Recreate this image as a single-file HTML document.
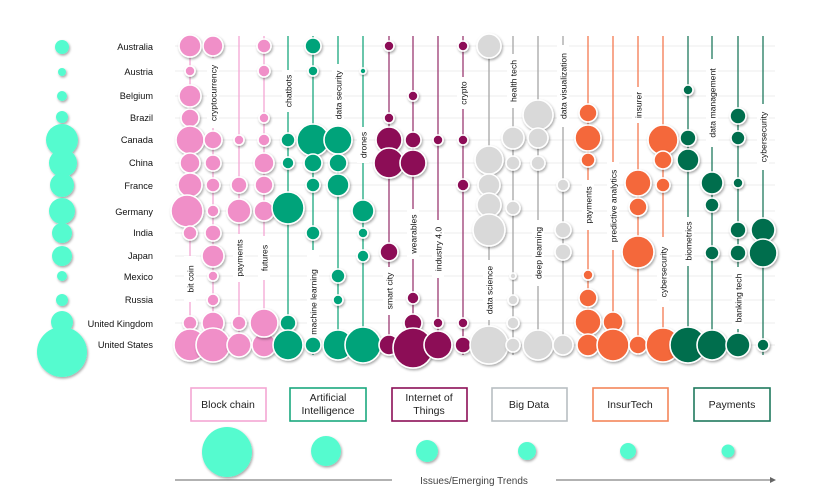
<!DOCTYPE html>
<html><head><meta charset="utf-8"><style>
body{margin:0;background:#fff}
svg{display:block;font-family:"Liberation Sans",sans-serif}
.b circle{stroke:#fff;stroke-width:1.6;filter:url(#sh)}
.p{fill:#F08FC8}.g{fill:#00A37A}.m{fill:#8C0F56}.y{fill:#D9D9D9}.o{fill:#F4683A}.d{fill:#006E4E}
.lt{font-size:8.6px;fill:#111}
.cl{font-size:9.2px;fill:#111;text-anchor:end}
</style></head><body>
<svg width="824" height="504" viewBox="0 0 824 504">
<defs><filter id="sh" x="-30%" y="-30%" width="170%" height="170%"><feDropShadow dx="1" dy="1.5" stdDeviation="1.2" flood-color="#000" flood-opacity="0.35"/></filter></defs>
<g stroke="#ececec" stroke-width="1">
<line x1="175" x2="775" y1="46" y2="46"/><line x1="175" x2="775" y1="71" y2="71"/><line x1="175" x2="775" y1="96" y2="96"/><line x1="175" x2="775" y1="118" y2="118"/><line x1="175" x2="775" y1="140" y2="140"/><line x1="175" x2="775" y1="163" y2="163"/><line x1="175" x2="775" y1="185" y2="185"/><line x1="175" x2="775" y1="211" y2="211"/><line x1="175" x2="775" y1="233" y2="233"/><line x1="175" x2="775" y1="256" y2="256"/><line x1="175" x2="775" y1="276" y2="276"/><line x1="175" x2="775" y1="300" y2="300"/><line x1="175" x2="775" y1="323" y2="323"/><line x1="175" x2="775" y1="345" y2="345"/>
</g>
<g stroke-width="1.3">
<g stroke="#F4A6D4"><line x1="190" x2="190" y1="36" y2="355"/><line x1="213" x2="213" y1="36" y2="355"/><line x1="239" x2="239" y1="36" y2="355"/><line x1="264" x2="264" y1="36" y2="355"/></g>
<g stroke="#1AA87E"><line x1="288" x2="288" y1="36" y2="355"/><line x1="313" x2="313" y1="36" y2="355"/><line x1="338" x2="338" y1="36" y2="355"/><line x1="363" x2="363" y1="36" y2="355"/></g>
<g stroke="#9C3A72"><line x1="389" x2="389" y1="36" y2="355"/><line x1="413" x2="413" y1="36" y2="355"/><line x1="438" x2="438" y1="36" y2="355"/><line x1="463" x2="463" y1="36" y2="355"/></g>
<g stroke="#A6A6A6"><line x1="489" x2="489" y1="36" y2="355"/><line x1="513" x2="513" y1="36" y2="355"/><line x1="538" x2="538" y1="36" y2="355"/><line x1="563" x2="563" y1="36" y2="355"/></g>
<g stroke="#F47A50"><line x1="588" x2="588" y1="36" y2="355"/><line x1="613" x2="613" y1="36" y2="355"/><line x1="638" x2="638" y1="36" y2="355"/><line x1="663" x2="663" y1="36" y2="355"/></g>
<g stroke="#1F7A5E"><line x1="688" x2="688" y1="36" y2="355"/><line x1="712" x2="712" y1="36" y2="355"/><line x1="738" x2="738" y1="36" y2="355"/><line x1="763" x2="763" y1="36" y2="355"/></g>
</g>
<g fill="#fff">
<rect x="184" y="256" width="12" height="46"/><rect x="207" y="58" width="12" height="70"/><rect x="233" y="234" width="12" height="48"/><rect x="258" y="236" width="12" height="44"/>
<rect x="282" y="70" width="12" height="42"/><rect x="307" y="250" width="12" height="104"/><rect x="332" y="64" width="12" height="62"/><rect x="357" y="127" width="12" height="36"/>
<rect x="383" y="267" width="12" height="48"/><rect x="407" y="209" width="12" height="50"/><rect x="432" y="220" width="12" height="58"/><rect x="457" y="77" width="12" height="32"/>
<rect x="483" y="260" width="12" height="60"/><rect x="507" y="54" width="12" height="54"/><rect x="532" y="220" width="12" height="66"/><rect x="557" y="45" width="12" height="82"/>
<rect x="582" y="180" width="12" height="50"/><rect x="607" y="162" width="12" height="88"/><rect x="632" y="87" width="12" height="36"/><rect x="657" y="237" width="12" height="70"/>
<rect x="682" y="217" width="12" height="49"/><rect x="706" y="59" width="12" height="88"/><rect x="732" y="267" width="12" height="62"/><rect x="757" y="104" width="12" height="66"/>
</g>
<g class="lt" text-anchor="middle">
<text transform="translate(193.5,279) rotate(-90)">bit coin</text>
<text transform="translate(216.5,93) rotate(-90)">cryptocurrency</text>
<text transform="translate(242.5,258) rotate(-90)">payments</text>
<text transform="translate(267.5,258) rotate(-90)">futures</text>
<text transform="translate(291.5,91) rotate(-90)">chatbots</text>
<text transform="translate(316.5,302) rotate(-90)">machine learning</text>
<text transform="translate(341.5,95) rotate(-90)">data security</text>
<text transform="translate(366.5,145) rotate(-90)">drones</text>
<text transform="translate(392.5,291) rotate(-90)">smart city</text>
<text transform="translate(416.5,234) rotate(-90)">wearables</text>
<text transform="translate(441.5,249) rotate(-90)">industry 4.0</text>
<text transform="translate(466.5,93) rotate(-90)">crypto</text>
<text transform="translate(492.5,290) rotate(-90)">data science</text>
<text transform="translate(516.5,81) rotate(-90)">health tech</text>
<text transform="translate(541.5,253) rotate(-90)">deep learning</text>
<text transform="translate(566.5,86) rotate(-90)">data visualization</text>
<text transform="translate(591.5,205) rotate(-90)">payments</text>
<text transform="translate(616.5,206) rotate(-90)">predictive analytics</text>
<text transform="translate(641.5,105) rotate(-90)">insurer</text>
<text transform="translate(666.5,272) rotate(-90)">cybersecurity</text>
<text transform="translate(691.5,241) rotate(-90)">biometrics</text>
<text transform="translate(715.5,103) rotate(-90)">data management</text>
<text transform="translate(741.5,298) rotate(-90)">banking tech</text>
<text transform="translate(766.5,137) rotate(-90)">cybersecurity</text>
</g>
<g class="b">
<g class="p">
<circle cx="190" cy="46" r="11"/><circle cx="190" cy="71" r="5"/><circle cx="190" cy="96" r="11"/><circle cx="190" cy="118" r="9"/><circle cx="190" cy="140" r="14"/><circle cx="190" cy="163" r="10"/><circle cx="190" cy="185" r="12"/><circle cx="187" cy="211" r="16"/><circle cx="190" cy="233" r="7"/><circle cx="190" cy="323" r="7"/><circle cx="190" cy="345" r="16"/>
<circle cx="213" cy="46" r="10"/><circle cx="213" cy="140" r="9"/><circle cx="213" cy="163" r="8"/><circle cx="213" cy="185" r="7"/><circle cx="213" cy="211" r="6"/><circle cx="213" cy="233" r="8"/><circle cx="213" cy="256" r="11"/><circle cx="213" cy="276" r="5"/><circle cx="213" cy="300" r="6"/><circle cx="213" cy="323" r="11"/><circle cx="213" cy="345" r="17"/>
<circle cx="239" cy="140" r="5"/><circle cx="239" cy="185" r="8"/><circle cx="239" cy="211" r="12"/><circle cx="239" cy="323" r="7"/><circle cx="239" cy="345" r="12"/>
<circle cx="264" cy="46" r="7"/><circle cx="264" cy="71" r="6"/><circle cx="264" cy="118" r="5"/><circle cx="264" cy="140" r="6"/><circle cx="264" cy="163" r="10"/><circle cx="264" cy="185" r="9"/><circle cx="264" cy="211" r="10"/><circle cx="264" cy="345" r="12"/><circle cx="264" cy="323" r="14"/>
</g>
<g class="g">
<circle cx="288" cy="140" r="7"/><circle cx="288" cy="163" r="6"/><circle cx="288" cy="208" r="16"/><circle cx="288" cy="323" r="8"/><circle cx="288" cy="345" r="15"/>
<circle cx="313" cy="46" r="8"/><circle cx="313" cy="71" r="5"/><circle cx="313" cy="140" r="16"/><circle cx="313" cy="163" r="9"/><circle cx="313" cy="185" r="7"/><circle cx="313" cy="233" r="7"/><circle cx="313" cy="345" r="8"/>
<circle cx="338" cy="140" r="14"/><circle cx="338" cy="163" r="9"/><circle cx="338" cy="185" r="11"/><circle cx="338" cy="276" r="7"/><circle cx="338" cy="300" r="5"/><circle cx="338" cy="345" r="15"/>
<circle cx="363" cy="71" r="3"/><circle cx="363" cy="211" r="11"/><circle cx="363" cy="233" r="5"/><circle cx="363" cy="256" r="6"/><circle cx="363" cy="345" r="18"/>
</g>
<g class="m">
<circle cx="389" cy="46" r="5"/><circle cx="389" cy="118" r="5"/><circle cx="389" cy="140" r="13"/><circle cx="389" cy="163" r="15"/><circle cx="389" cy="252" r="9"/><circle cx="389" cy="345" r="10"/>
<circle cx="413" cy="96" r="5"/><circle cx="413" cy="140" r="8"/><circle cx="413" cy="163" r="13"/><circle cx="413" cy="298" r="6"/><circle cx="413" cy="323" r="9"/><circle cx="413" cy="348" r="20"/>
<circle cx="438" cy="140" r="5"/><circle cx="438" cy="323" r="5"/><circle cx="438" cy="345" r="14"/>
<circle cx="463" cy="46" r="5"/><circle cx="463" cy="140" r="5"/><circle cx="463" cy="185" r="6"/><circle cx="463" cy="323" r="5"/><circle cx="463" cy="345" r="8"/>
</g>
<g class="y">
<circle cx="489" cy="46" r="12"/><circle cx="489" cy="160" r="14"/><circle cx="489" cy="185" r="11"/><circle cx="489" cy="205" r="12"/><circle cx="489" cy="230" r="16"/><circle cx="489" cy="345" r="19"/>
<circle cx="513" cy="138" r="11"/><circle cx="513" cy="163" r="7"/><circle cx="513" cy="208" r="7"/><circle cx="513" cy="276" r="3"/><circle cx="513" cy="300" r="5"/><circle cx="513" cy="323" r="6"/><circle cx="513" cy="345" r="7"/>
<circle cx="538" cy="115" r="15"/><circle cx="538" cy="138" r="10"/><circle cx="538" cy="163" r="7"/><circle cx="538" cy="345" r="15"/>
<circle cx="563" cy="185" r="6"/><circle cx="563" cy="230" r="8"/><circle cx="563" cy="252" r="8"/><circle cx="563" cy="345" r="10"/>
</g>
<g class="o">
<circle cx="588" cy="113" r="9"/><circle cx="588" cy="138" r="13"/><circle cx="588" cy="160" r="7"/><circle cx="588" cy="275" r="5"/><circle cx="588" cy="298" r="9"/><circle cx="588" cy="322" r="13"/><circle cx="588" cy="345" r="11"/>
<circle cx="613" cy="322" r="10"/><circle cx="613" cy="345" r="16"/>
<circle cx="638" cy="183" r="13"/><circle cx="638" cy="207" r="9"/><circle cx="638" cy="252" r="16"/><circle cx="638" cy="345" r="9"/>
<circle cx="663" cy="140" r="15"/><circle cx="663" cy="160" r="9"/><circle cx="663" cy="185" r="7"/><circle cx="663" cy="345" r="17"/>
</g>
<g class="d">
<circle cx="688" cy="90" r="5"/><circle cx="688" cy="138" r="8"/><circle cx="688" cy="160" r="11"/><circle cx="688" cy="345" r="18"/>
<circle cx="712" cy="183" r="11"/><circle cx="712" cy="205" r="7"/><circle cx="712" cy="253" r="7"/><circle cx="712" cy="345" r="15"/>
<circle cx="738" cy="116" r="8"/><circle cx="738" cy="138" r="7"/><circle cx="738" cy="183" r="5"/><circle cx="738" cy="230" r="8"/><circle cx="738" cy="253" r="8"/><circle cx="738" cy="345" r="12"/>
<circle cx="763" cy="230" r="12"/><circle cx="763" cy="253" r="14"/><circle cx="763" cy="345" r="6"/>
</g>
</g>
<g fill="#55FBCF" filter="url(#sh)">
<circle cx="62" cy="47" r="7"/><circle cx="62" cy="72" r="4"/><circle cx="62" cy="96" r="5"/><circle cx="62" cy="117" r="6"/><circle cx="62" cy="140" r="16"/><circle cx="63" cy="163" r="14"/><circle cx="62" cy="185" r="12"/><circle cx="62" cy="211" r="13"/><circle cx="62" cy="233" r="10"/><circle cx="62" cy="256" r="10"/><circle cx="62" cy="276" r="5"/><circle cx="62" cy="300" r="6"/><circle cx="62" cy="322" r="11"/><circle cx="62" cy="352" r="25"/>
</g>
<g class="cl">
<text x="153" y="50">Australia</text><text x="153" y="75">Austria</text><text x="153" y="99">Belgium</text><text x="153" y="121">Brazil</text><text x="153" y="143">Canada</text><text x="153" y="166">China</text><text x="153" y="189">France</text><text x="153" y="215">Germany</text><text x="153" y="236">India</text><text x="153" y="259">Japan</text><text x="153" y="280">Mexico</text><text x="153" y="303">Russia</text><text x="153" y="327">United Kingdom</text><text x="153" y="348">United States</text>
</g>
<g fill="#fff" stroke-width="1.6">
<rect x="191" y="388" width="75" height="33" stroke="#F4A6D4"/>
<rect x="290" y="388" width="76" height="33" stroke="#1AA87E"/>
<rect x="392" y="388" width="75" height="33" stroke="#8C0F56"/>
<rect x="492" y="388" width="75" height="33" stroke="#B8BEC2"/>
<rect x="593" y="388" width="75" height="33" stroke="#F4865A"/>
<rect x="694" y="388" width="76" height="33" stroke="#1F7A5E"/>
</g>
<g font-size="10.5" fill="#222" text-anchor="middle">
<text x="228" y="408">Block chain</text>
<text x="328" y="401">Artificial</text><text x="328" y="414">Intelligence</text>
<text x="429" y="401">Internet of</text><text x="429" y="414">Things</text>
<text x="529" y="408">Big Data</text>
<text x="630" y="408">InsurTech</text>
<text x="732" y="408">Payments</text>
</g>
<g fill="#55FBCF" filter="url(#sh)">
<circle cx="227" cy="452" r="25"/><circle cx="326" cy="451" r="15"/><circle cx="427" cy="451" r="11"/><circle cx="527" cy="451" r="9"/><circle cx="628" cy="451" r="8"/><circle cx="728" cy="451" r="6.5"/>
</g>
<g stroke="#666" stroke-width="1">
<line x1="175" y1="480" x2="392" y2="480"/><line x1="556" y1="480" x2="770" y2="480"/>
</g>
<polygon points="770,477 776,480 770,483" fill="#666"/>
<text x="474" y="484" font-size="10" fill="#444" text-anchor="middle">Issues/Emerging Trends</text>
</svg>
</body></html>
